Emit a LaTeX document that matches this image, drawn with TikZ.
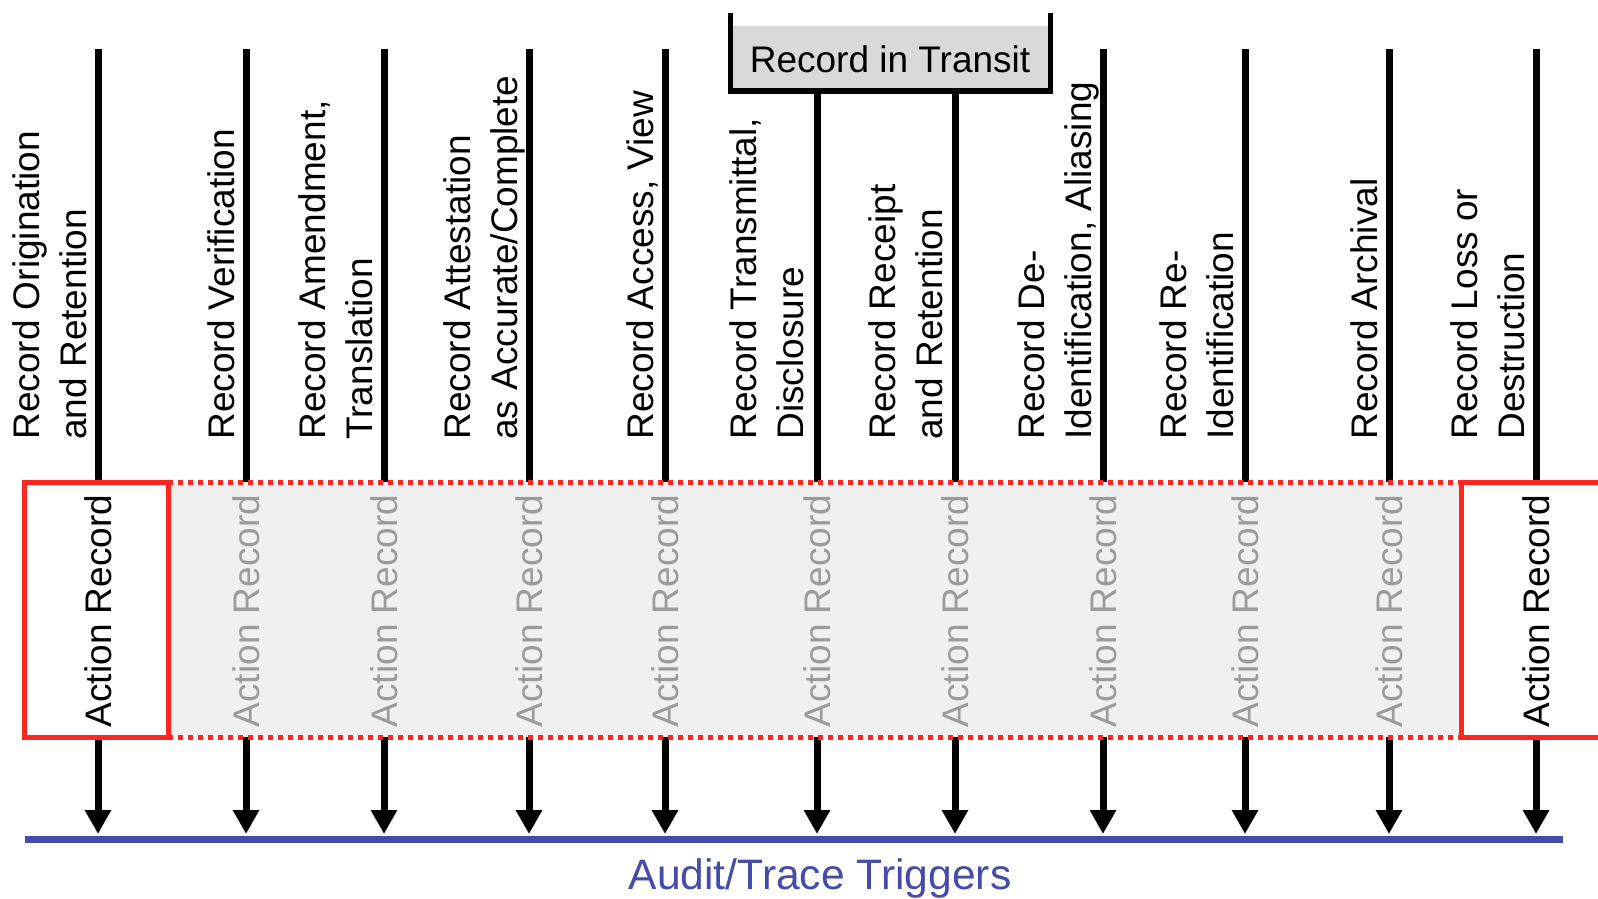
\documentclass[tikz,border=0pt]{standalone}
\usepackage{fontspec}
\setmainfont{Liberation Sans}
\usetikzlibrary{arrows.meta}
\definecolor{bandred}{RGB}{255,38,33}
\definecolor{bandgray}{RGB}{240,240,240}
\definecolor{transitgray}{RGB}{217,217,217}
\definecolor{faintgray}{RGB}{155,155,155}
\definecolor{triggerblue}{RGB}{68,75,170}
\tikzset{
	steplabel/.style={rotate=90, anchor=south west, inner sep=0pt, text depth=0pt, align=left, font=\fontsize{18.5}{23.5}\selectfont},
	actrec/.style={rotate=90, inner sep=0pt, font=\fontsize{18.5}{22}\selectfont},
	stepline/.style={line width=3.5pt},
	trigarrow/.style={line width=3.5pt, -{Triangle[length=12pt,width=12.5pt]}},
}

\begin{document}
\begin{tikzpicture}[x=0.5pt, y=-0.5pt]
			%%%%% START %%%%%
			\useasboundingbox (0, 0) rectangle (1598, 898);
			
			\coordinate (bandtop) at (0, 482);
			\coordinate (bandmid) at (0, 611);
			\coordinate (bandbot) at (0, 737);
			\coordinate (trig) at (0, 834);
			
			\coordinate (c1) at (98, 49);
			\coordinate (c2) at (246, 49);
			\coordinate (c3) at (384, 49);
			\coordinate (c4) at (529, 49);
			\coordinate (c5) at (665, 49);
			\coordinate (c6) at (817, 91);
			\coordinate (c7) at (955, 91);
			\coordinate (c8) at (1103, 49);
			\coordinate (c9) at (1245, 49);
			\coordinate (c10) at (1389, 49);
			\coordinate (c11) at (1536, 49);
			
			% band of action records
			\fill[bandgray] (168, 482) rectangle (1461, 737);
			
			% record in transit
			\fill[transitgray] (730.5, 26) rectangle (1050.5, 91);
			\draw[line width=2.75pt] (730.5, 12.7) -- (730.5, 91) -- (1050.5, 91) -- (1050.5, 12.7);
			\node[anchor=base, inner sep=0pt, font=\fontsize{18.5}{22}\selectfont] (transit) at (890, 73) {Record in Transit};
			
			% step labels
			\node[steplabel] (s1) at (87, 440) {Record Origination\\and Retention};
			\node[steplabel] (s2) at (235, 440) {Record Verification};
			\node[steplabel] (s3) at (373, 440) {Record Amendment,\\Translation};
			\node[steplabel] (s4) at (518, 440) {Record Attestation\\as Accurate/Complete};
			\node[steplabel] (s5) at (654, 440) {Record Access, View};
			\node[steplabel] (s6) at (804, 440) {Record Transmittal,\\Disclosure};
			\node[steplabel] (s7) at (943, 440) {Record Receipt\\and Retention};
			\node[steplabel] (s8) at (1092, 440) {Record De-\\Identification, Aliasing};
			\node[steplabel] (s9) at (1234, 440) {Record Re-\\Identification};
			\node[steplabel] (s10) at (1378, 440) {Record Archival};
			\node[steplabel] (s11) at (1525, 440) {Record Loss or\\Destruction};
			
			% lines, records and triggers
			\foreach \c in {c1,c2,c3,c4,c5,c6,c7,c8,c9,c10,c11} {
				\draw[stepline] (\c) -- (\c |- bandtop);
				\draw[trigarrow] (\c |- bandbot) -- (\c |- trig);
			}
			\node[actrec] (a1) at (c1 |- bandmid) {Action Record};
			\foreach \c in {c2,c3,c4,c5,c6,c7,c8,c9,c10} {
				\node[actrec, text=faintgray] (a-\c) at (\c |- bandmid) {Action Record};
			}
			\node[actrec] (a11) at (c11 |- bandmid) {Action Record};
			
			% red borders
			\draw[bandred, line width=2.5pt, dash pattern=on 2.5pt off 2.5pt] (168, 482) -- (1461, 482);
			\draw[bandred, line width=2.5pt, dash pattern=on 2.5pt off 2.5pt] (168, 737) -- (1461, 737);
			\draw[bandred, line width=2.5pt] (24, 482) rectangle (168, 737);
			\draw[bandred, line width=2.5pt] (1461, 482) rectangle (1625, 737);
			
			% audit/trace triggers
			\coordinate (bl) at (25, 839.5);
			\coordinate (br) at (1563, 839.5);
			\draw[triggerblue, line width=3.5pt] (bl) -- (br);
			\node[text=triggerblue, font=\fontsize{21.3}{25}\selectfont] (audit) at (820, 878) {Audit/Trace Triggers};
			
			%%%%% END %%%%%
\end{tikzpicture}
\end{document}
